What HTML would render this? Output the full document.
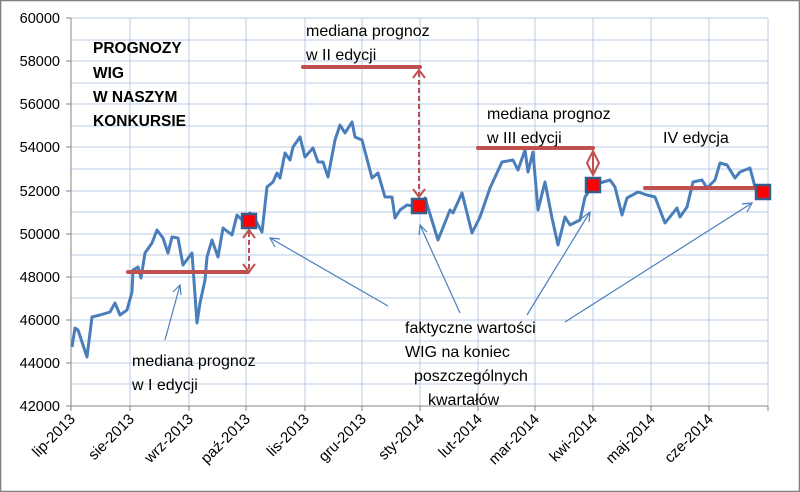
<!DOCTYPE html>
<html><head><meta charset="utf-8"><style>
html,body{margin:0;padding:0;background:#fff}
svg{display:block}
text{font-family:"Liberation Sans",sans-serif;fill:#000}
</style></head><body>
<svg width="800" height="492" viewBox="0 0 800 492" xmlns="http://www.w3.org/2000/svg">
<rect x="0.5" y="0.5" width="799" height="491" fill="#fff" stroke="#7f7f7f" stroke-width="1.5"/>
<g stroke="#b9cde5" stroke-width="1">
<line x1="71" y1="18" x2="768" y2="18"/><line x1="71" y1="40" x2="768" y2="40"/><line x1="71" y1="61" x2="768" y2="61"/>
<line x1="71" y1="83" x2="768" y2="83"/><line x1="71" y1="104" x2="768" y2="104"/><line x1="71" y1="126" x2="768" y2="126"/>
<line x1="71" y1="147" x2="768" y2="147"/><line x1="71" y1="169" x2="768" y2="169"/><line x1="71" y1="191" x2="768" y2="191"/>
<line x1="71" y1="212" x2="768" y2="212"/><line x1="71" y1="234" x2="768" y2="234"/><line x1="71" y1="255" x2="768" y2="255"/>
<line x1="71" y1="277" x2="768" y2="277"/><line x1="71" y1="298" x2="768" y2="298"/><line x1="71" y1="320" x2="768" y2="320"/>
<line x1="71" y1="341" x2="768" y2="341"/><line x1="71" y1="363" x2="768" y2="363"/><line x1="71" y1="384" x2="768" y2="384"/>
<line x1="130" y1="18" x2="130" y2="406"/><line x1="189" y1="18" x2="189" y2="406"/><line x1="246" y1="18" x2="246" y2="406"/>
<line x1="305" y1="18" x2="305" y2="406"/><line x1="362" y1="18" x2="362" y2="406"/><line x1="420" y1="18" x2="420" y2="406"/>
<line x1="478" y1="18" x2="478" y2="406"/><line x1="535" y1="18" x2="535" y2="406"/><line x1="593" y1="18" x2="593" y2="406"/>
<line x1="651" y1="18" x2="651" y2="406"/><line x1="709" y1="18" x2="709" y2="406"/><line x1="768" y1="18" x2="768" y2="406"/>
</g>
<g stroke="#868686" stroke-width="1">
<line x1="71" y1="18" x2="71" y2="406"/><line x1="71" y1="406" x2="768" y2="406"/>
<line x1="66" y1="18" x2="71" y2="18"/><line x1="66" y1="61" x2="71" y2="61"/><line x1="66" y1="104" x2="71" y2="104"/><line x1="66" y1="147" x2="71" y2="147"/><line x1="66" y1="191" x2="71" y2="191"/><line x1="66" y1="234" x2="71" y2="234"/><line x1="66" y1="277" x2="71" y2="277"/><line x1="66" y1="320" x2="71" y2="320"/><line x1="66" y1="363" x2="71" y2="363"/><line x1="66" y1="406" x2="71" y2="406"/>
<line x1="71" y1="406" x2="71" y2="411"/><line x1="130" y1="406" x2="130" y2="411"/><line x1="189" y1="406" x2="189" y2="411"/><line x1="246" y1="406" x2="246" y2="411"/><line x1="305" y1="406" x2="305" y2="411"/><line x1="362" y1="406" x2="362" y2="411"/><line x1="420" y1="406" x2="420" y2="411"/><line x1="478" y1="406" x2="478" y2="411"/><line x1="535" y1="406" x2="535" y2="411"/><line x1="593" y1="406" x2="593" y2="411"/><line x1="651" y1="406" x2="651" y2="411"/><line x1="709" y1="406" x2="709" y2="411"/><line x1="768" y1="406" x2="768" y2="411"/>
</g>
<g font-size="14.5" text-anchor="end">
<text x="60" y="23">60000</text><text x="60" y="66">58000</text><text x="60" y="109">56000</text><text x="60" y="152">54000</text><text x="60" y="196">52000</text><text x="60" y="239">50000</text><text x="60" y="282">48000</text><text x="60" y="325">46000</text><text x="60" y="368">44000</text><text x="60" y="411">42000</text>
</g>
<g font-size="15" text-anchor="end">
<text transform="translate(76,420) rotate(-45)">lip-2013</text>
<text transform="translate(135,420) rotate(-45)">sie-2013</text>
<text transform="translate(194,420) rotate(-45)">wrz-2013</text>
<text transform="translate(251,420) rotate(-45)">paź-2013</text>
<text transform="translate(310,420) rotate(-45)">lis-2013</text>
<text transform="translate(367,420) rotate(-45)">gru-2013</text>
<text transform="translate(425,420) rotate(-45)">sty-2014</text>
<text transform="translate(483,420) rotate(-45)">lut-2014</text>
<text transform="translate(540,420) rotate(-45)">mar-2014</text>
<text transform="translate(598,420) rotate(-45)">kwi-2014</text>
<text transform="translate(656,420) rotate(-45)">maj-2014</text>
<text transform="translate(714,420) rotate(-45)">cze-2014</text>
</g>
<polyline fill="none" stroke="#4a7ebb" stroke-width="3" stroke-linejoin="round" points="72,347 75,328 78,330 87,357 92,317 100,315 110,312 115,303 120,315 127,310 132,292 133,270 138,267 141,278 145,253 152,243 157,230 163,238 168,253 172,237 178,238 183,265 192,253 197,323 200,303 205,280 207,257 212,240 218,257 223,228 232,235 237,215 242,220 250,213 257,223 262,232 267,187 273,182 277,173 280,178 285,153 290,160 293,147 300,137 305,157 313,148 318,162 323,162 328,177 335,140 340,125 345,133 352,122 355,137 362,140 372,178 378,173 385,197 392,197 395,218 400,210 407,205 418,207 425,198 438,240 450,210 453,213 462,193 472,233 480,217 490,188 502,162 513,160 518,170 525,150 528,172 533,152 538,210 545,182 552,218 558,245 565,217 570,225 580,220 585,197 593,185 610,180 615,187 622,215 627,198 638,192 647,195 655,197 665,223 677,208 680,217 687,207 693,182 702,180 707,188 715,180 720,163 727,165 735,178 740,172 750,168 755,187 763,192"/>
<g stroke="#c0504d" stroke-width="4" stroke-linecap="round">
<line x1="128" y1="272" x2="248" y2="272"/>
<line x1="303" y1="67" x2="420" y2="67"/>
<line x1="478" y1="148" x2="593" y2="148"/>
<line x1="645" y1="188" x2="763" y2="188"/>
</g>
<g stroke="#c0504d" stroke-width="2" fill="none">
<line x1="249" y1="232" x2="249" y2="270" stroke-dasharray="5,3"/>
<polyline points="243,238 249,230 255,238"/><polyline points="243,264 249,272 255,264"/>
<line x1="419" y1="72" x2="419" y2="196" stroke-dasharray="5,3"/>
<polyline points="413,78 419,70 425,78"/><polyline points="413,189 419,197 425,189"/>
<polygon points="593,151 599,163 593,175 587,163"/>
<line x1="593" y1="151" x2="593" y2="175"/>
</g>
<g stroke="#4a7ebb" stroke-width="1.2" fill="none">
<line x1="165" y1="340" x2="180" y2="285"/><polyline points="173,292 180,285 181,295"/>
<line x1="388" y1="306" x2="270" y2="238"/><polyline points="280,239 270,238 275,247"/>
<line x1="460" y1="313" x2="420" y2="225"/><polyline points="419,235 420,225 427,232"/>
<line x1="527" y1="315" x2="590" y2="212"/><polyline points="582,218 590,212 589,222"/>
<line x1="565" y1="322" x2="752" y2="203"/><polyline points="742,204 752,203 747,212"/>
</g>
<g stroke="#385d8a" stroke-width="2.5" fill="#ff0000">
<rect x="242" y="214" width="14" height="14"/>
<rect x="412" y="199" width="14" height="14"/>
<rect x="586" y="178" width="14" height="14"/>
<rect x="756" y="185" width="14" height="14"/>
</g>
<g font-size="15.5" font-weight="bold">
<text x="93" y="53">PROGNOZY</text><text x="93" y="78">WIG</text><text x="93" y="102">W NASZYM</text><text x="93" y="126">KONKURSIE</text>
</g>
<g font-size="16">
<text x="132" y="366">mediana prognoz</text><text x="132" y="390">w I edycji</text>
<text x="306" y="36">mediana prognoz</text><text x="306" y="60">w II edycji</text>
<text x="487" y="119">mediana prognoz</text><text x="487" y="143">w III edycji</text>
<text x="663" y="143">IV edycja</text>
<text x="405" y="333">faktyczne wartości</text><text x="405" y="357">WIG na koniec</text><text x="414" y="381">poszczególnych</text><text x="428" y="405">kwartałów</text>
</g>
</svg>
</body></html>
